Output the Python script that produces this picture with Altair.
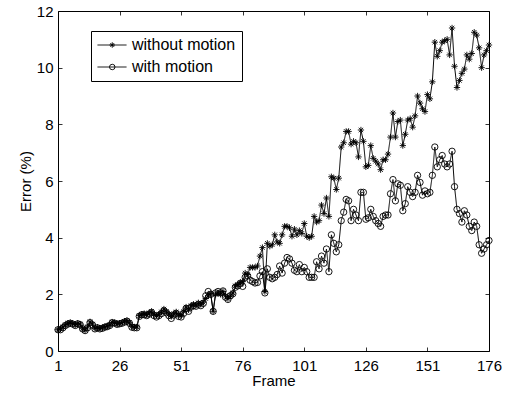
import altair as alt
import pandas as pd

# ---------------- data ----------------
frames = list(range(1, 177))

without_motion = [
    0.75, 0.78, 0.85, 0.92, 0.98, 1.00, 0.97, 0.92, 0.98, 0.95,
    0.80, 0.73, 0.85, 1.03, 0.95, 0.80, 0.84, 0.80, 0.82, 0.86,
    0.88, 0.92, 1.02, 1.00, 0.96, 0.98, 1.00, 1.05, 1.08, 1.00,
    0.87, 0.85, 0.85, 1.25, 1.30, 1.32, 1.28, 1.35, 1.40, 1.30,
    1.25, 1.30, 1.38, 1.48, 1.40, 1.30, 1.22, 1.32, 1.38, 1.28,
    1.25, 1.40, 1.55, 1.45, 1.60, 1.65, 1.62, 1.70, 1.65, 1.72,
    1.85, 1.95, 2.03, 1.40, 2.00, 2.05, 2.00, 2.10, 1.95, 1.85,
    1.95, 2.05, 2.30, 2.35, 2.42, 2.45, 2.75, 2.70, 2.95, 2.95,
    2.95, 3.00, 3.35, 3.65, 2.10, 3.80, 3.70, 3.75, 4.10, 3.85,
    3.80, 4.10, 4.40, 4.40, 4.35, 4.05, 4.30, 4.10, 4.25, 4.15,
    4.50, 4.05, 4.00, 4.05, 4.75, 4.55, 4.60, 5.15, 4.85, 5.40,
    4.75, 6.15, 6.10, 5.70, 6.10, 7.20, 7.35, 7.75, 7.75, 7.30,
    7.40, 7.35, 6.85, 7.80, 7.40, 6.50, 6.55, 7.25, 6.80, 6.70,
    6.60, 6.40, 6.75, 6.75, 6.95, 7.55, 8.40, 7.55, 8.10, 8.15,
    7.25, 7.65, 8.15, 8.20, 7.90, 8.30, 9.00, 8.75, 8.55, 8.45,
    9.05, 8.90, 9.50, 10.90, 10.40, 10.60, 10.90, 10.95, 11.00, 10.45,
    11.40, 10.05, 9.30, 9.55, 9.80, 9.95, 10.45, 10.30, 10.50, 11.25,
    11.15, 10.70, 10.00, 10.45, 10.60, 10.80,
]

with_motion = [
    0.75, 0.75, 0.82, 0.90, 0.95, 0.98, 0.95, 0.90, 0.96, 0.93,
    0.78, 0.72, 0.82, 1.00, 0.92, 0.78, 0.82, 0.78, 0.80, 0.84,
    0.86, 0.90, 1.00, 0.98, 0.94, 0.96, 0.98, 1.02, 1.05, 0.98,
    0.84, 0.82, 0.82, 1.22, 1.28, 1.28, 1.25, 1.30, 1.36, 1.25,
    1.20, 1.25, 1.32, 1.42, 1.35, 1.25, 1.15, 1.27, 1.33, 1.22,
    1.20, 1.33, 1.50, 1.40, 1.55, 1.60, 1.58, 1.65, 1.60, 1.68,
    1.95, 2.10, 2.00, 1.40, 2.05, 2.10, 2.05, 2.12, 1.90, 1.82,
    1.95, 2.02, 2.25, 2.30, 2.38, 2.28, 2.60, 2.65, 2.50, 2.45,
    2.40, 2.42, 2.65, 2.80, 2.05, 2.90, 2.60, 2.55, 2.60, 2.70,
    3.00, 2.75, 3.10, 3.30, 3.25, 3.10, 2.85, 2.80, 3.05, 2.80,
    2.95, 2.80, 2.60, 2.60, 2.60, 3.15, 2.90, 3.35, 3.10, 3.60,
    2.80, 4.10, 3.80, 3.50, 3.75, 4.60, 4.90, 5.35, 5.30, 4.60,
    5.00, 4.80, 4.60, 5.60, 5.60, 4.65, 4.70, 5.00, 4.75, 4.60,
    4.50, 4.40, 4.75, 4.80, 4.80, 5.55, 6.05, 5.30, 5.90, 5.85,
    4.95, 5.20, 5.80, 5.60, 5.45, 5.60, 6.20, 5.95, 5.50, 5.65,
    5.55, 5.60, 6.20, 7.20, 6.50, 6.75, 6.90, 6.60, 6.50, 6.60,
    7.05, 5.80, 5.00, 4.85, 4.55, 4.95, 4.80, 4.40, 4.25, 4.55,
    4.40, 3.75, 3.45, 3.60, 3.75, 3.90,
]

series_names = ["without motion", "with motion"]
x_ticks = [1, 26, 51, 76, 101, 126, 151, 176]
y_ticks = [0, 2, 4, 6, 8, 10, 12]

df = pd.DataFrame({
    "frame": frames + frames,
    "error": without_motion + with_motion,
    "series": [series_names[0]] * len(frames) + [series_names[1]] * len(frames),
})
df["series_line"] = df["series"]

# ---------------- styling ----------------
FONT = "Liberation Sans"
ASTERISK = "M-1,0L1,0M0,-1L0,1M-0.7,-0.7L0.7,0.7M-0.7,0.7L0.7,-0.7"

xscale = alt.Scale(domain=[1, 176], nice=False, zero=False)
yscale = alt.Scale(domain=[0, 12], nice=False, zero=False)

x_axis = alt.Axis(values=x_ticks, title="Frame", offset=-4, tickSize=4,
                  labelPadding=7, domain=False, grid=False, labelFlush=False,
                  labelOverlap=False, titlePadding=0, format="d")
y_axis = alt.Axis(values=y_ticks, title="Error (%)", offset=-4, tickSize=4,
                  labelPadding=5, domain=False, grid=False, labelOverlap=False,
                  titlePadding=3, format="d")

X = alt.X("frame:Q", scale=xscale, axis=x_axis)
Y = alt.Y("error:Q", scale=yscale, axis=y_axis)

LEG_X, LEG_Y, LEG_PAD = 33, 20, 6

base = alt.Chart(df)

# line layer: provides the legend box, the line samples and the labels
lines = base.mark_line(color="black", strokeWidth=1.0).encode(
    x=X, y=Y,
    strokeDash=alt.StrokeDash(
        "series_line:N",
        scale=alt.Scale(domain=series_names, range=[[1, 0], [1, 0]]),
        legend=alt.Legend(
            title="", orient="none", legendX=LEG_X, legendY=LEG_Y,
            strokeColor="black", fillColor="white", padding=LEG_PAD,
            cornerRadius=0, labelFont=FONT, labelFontSize=16,
            labelColor="black", labelOffset=5, symbolSize=841,
            symbolStrokeWidth=1.0, symbolStrokeColor="black",
            clipHeight=16, rowPadding=6, zindex=0,
        ),
    ),
)

# point layer: markers, with a marker-only legend laid over the line samples
points = base.mark_point(color="black", filled=False, strokeWidth=0.9,
                         size=40, opacity=1).encode(
    x=X, y=Y,
    shape=alt.Shape(
        "series:N",
        sort=series_names,
        scale=alt.Scale(range=[ASTERISK, "circle"]),
        legend=alt.Legend(
            title="", orient="none", legendX=LEG_X, legendY=LEG_Y,
            padding=LEG_PAD, labelFont=FONT, labelFontSize=16,
            labelExpr="''", symbolSize=30, symbolOffset=7.25,
            symbolStrokeWidth=0.9, symbolStrokeColor="black",
            symbolFillColor="white", symbolOpacity=1,
            clipHeight=16, rowPadding=6, zindex=1,
        ),
    ),
)

inner = alt.layer(lines, points)

mirror_ticks = base.mark_line(opacity=0).encode(
    x=alt.X("frame:Q", scale=xscale,
            axis=alt.Axis(orient="top", values=x_ticks, labels=False, title="",
                          offset=-4, tickSize=4, domain=False, grid=False)),
    y=alt.Y("error:Q", scale=yscale,
            axis=alt.Axis(orient="right", values=y_ticks, labels=False, title="",
                          offset=-4, tickSize=4, domain=False, grid=False)),
    detail="series:N",
)

chart = (
    alt.layer(inner, mirror_ticks)
    .resolve_scale(x="independent", y="independent")
    .properties(
        width=431, height=340,
        padding={"left": 58, "top": 11, "right": 20, "bottom": 43},
        autosize=alt.AutoSizeParams(type="none"),
        background="white",
    )
    .configure_view(stroke="black", strokeWidth=1)
    .configure_axis(
        labelFont=FONT, titleFont=FONT, labelFontSize=15, titleFontSize=15,
        labelColor="black", titleColor="black", tickColor="black",
        tickWidth=0.8, titleFontWeight="normal",
    )
)

chart.save("out.html", embed_options={"renderer": "svg", "actions": False})
